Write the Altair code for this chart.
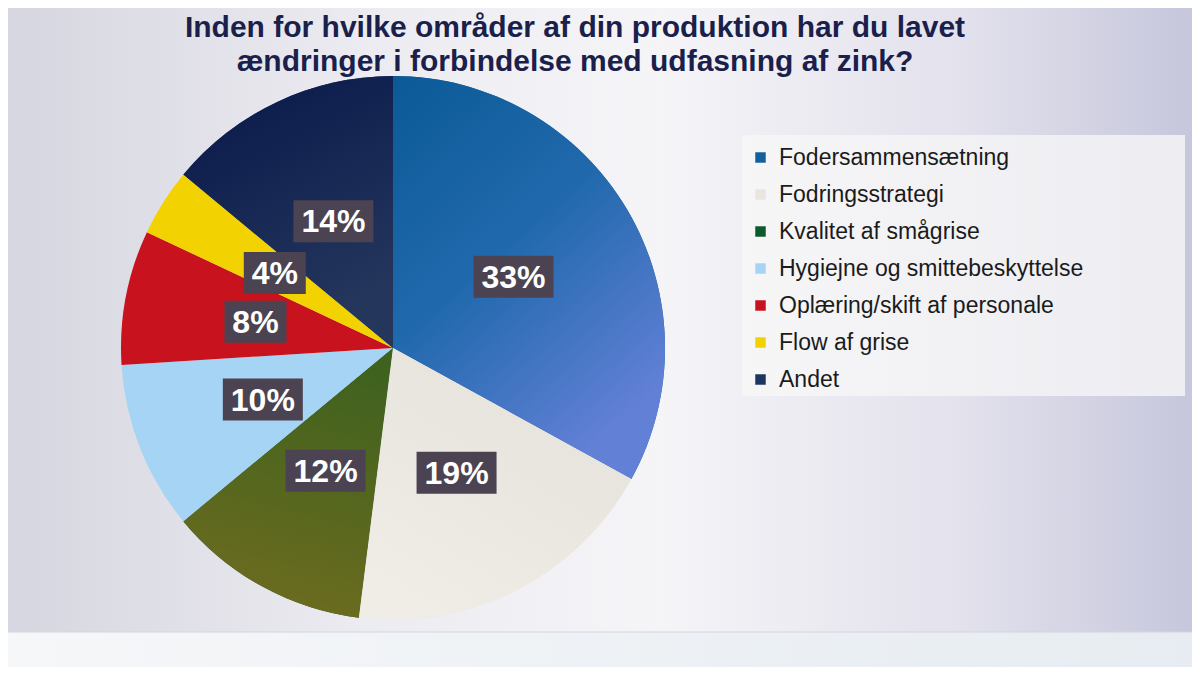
import math
import altair as alt
import pandas as pd

CATEGORIES = [
    "Fodersammensætning",
    "Fodringsstrategi",
    "Kvalitet af smågrise",
    "Hygiejne og smittebeskyttelse",
    "Oplæring/skift af personale",
    "Flow af grise",
    "Andet",
]
VALUES = [33, 19, 12, 10, 8, 4, 14]
LABELS = ["33%", "19%", "12%", "10%", "8%", "4%", "14%"]
COLORS = ["#12609c", "#e9e6df", "#0f5a2c", "#a6d4f4", "#c8131e", "#f2d200", "#1e3461"]
TITLE_LINES = [
    "Inden for hvilke områder af din produktion har du lavet",
    "ændringer i forbindelse med udfasning af zink?",
]

W, H = 1184, 659
CX, CY, R = 385, 340, 272
LR = 140

df = pd.DataFrame({
    "kategori": CATEGORIES,
    "andel": VALUES,
    "label": LABELS,
    "orden": list(range(len(CATEGORIES))),
})

base = (
    alt.Chart(df)
    .transform_window(cum="sum(andel)", sort=[alt.SortField("orden")], frame=[None, 0])
    .transform_calculate(start="datum.cum - datum.andel", mid="datum.cum - datum.andel / 2")
    .transform_calculate(ang="datum.mid / 100 * 2 * PI")
    .transform_calculate(
        lx=f"{CX} + {LR} * sin(datum.ang)",
        ly=f"{CY} - {LR} * cos(datum.ang)",
        bw="18 * length(datum.label) + 26",
    )
    .transform_calculate(
        bx1="datum.lx - datum.bw / 2",
        bx2="datum.lx + datum.bw / 2",
        by1="datum.ly - 21",
        by2="datum.ly + 21",
    )
)

theta_scale = alt.Scale(domain=[0, 100], range=[0, 2 * math.pi])
xs = alt.Scale(domain=[0, W], range=[0, W], nice=False, zero=False)
ys = alt.Scale(domain=[0, H], range=[0, H], nice=False, zero=False)

one = pd.DataFrame({"k": [0]})

bg = alt.Chart(one).mark_rect(
    fill=alt.Gradient(
        gradient="linear", x1=0, y1=0, x2=1, y2=0,
        stops=[
            alt.GradientStop(offset=0, color="#d6d6e0"),
            alt.GradientStop(offset=0.3, color="#ecebf1"),
            alt.GradientStop(offset=0.55, color="#f5f4f7"),
            alt.GradientStop(offset=0.8, color="#e3e2ed"),
            alt.GradientStop(offset=1, color="#c6c7dc"),
        ],
    )
).encode(x=alt.value(0), x2=alt.value(W), y=alt.value(0), y2=alt.value(H))

strip = alt.Chart(one).mark_rect(
    fill=alt.Gradient(
        gradient="linear", x1=0, y1=0, x2=1, y2=0,
        stops=[
            alt.GradientStop(offset=0, color="#f6f7f9"),
            alt.GradientStop(offset=1, color="#e6ecf1"),
        ],
    ),
    stroke="#d4d4e0", strokeWidth=1,
).encode(x=alt.value(-2), x2=alt.value(W + 2), y=alt.value(624), y2=alt.value(H + 2))

legend_bg = alt.Chart(one).mark_rect(
    fill=alt.Gradient(
        gradient="linear", x1=0, y1=0, x2=1, y2=0,
        stops=[
            alt.GradientStop(offset=0, color="#f6f6f7"),
            alt.GradientStop(offset=1, color="#ededf2"),
        ],
    )
).encode(x=alt.value(734), x2=alt.value(1177), y=alt.value(127), y2=alt.value(388))

arcs = base.mark_arc(radius=R).encode(
    theta=alt.Theta("start:Q", scale=theta_scale),
    theta2="cum:Q",
    color=alt.Color(
        "kategori:N",
        scale=alt.Scale(domain=CATEGORIES, range=COLORS),
        sort=CATEGORIES,
        legend=alt.Legend(
            orient="none", legendX=741, legendY=138, title=None,
            symbolType="square", symbolSize=110, symbolStrokeWidth=0,
            labelFontSize=23, labelFont="Liberation Sans", labelColor="#1b1b1b",
            rowPadding=13, labelOffset=7, padding=0, labelLimit=600,
        ),
    ),
    x=alt.value(CX),
    y=alt.value(CY),
)


def grad_arc(cat, stops, x1, y1, x2, y2):
    return base.transform_filter(alt.datum.kategori == cat).mark_arc(
        radius=R,
        fill=alt.Gradient(
            gradient="linear", x1=x1, y1=y1, x2=x2, y2=y2,
            stops=[alt.GradientStop(offset=o, color=c) for o, c in stops],
        ),
    ).encode(
        theta=alt.Theta("start:Q", scale=theta_scale),
        theta2="cum:Q",
        x=alt.value(CX),
        y=alt.value(CY),
    )


g_blue = grad_arc(CATEGORIES[0], [(0, "#0b5a96"), (0.5, "#2169ad"), (1, "#6280d6")], 0, 0, 0.6, 1)
g_green = grad_arc(CATEGORIES[2], [(0, "#3f621f"), (1, "#6e6c1e")], 0.5, 0, 0.3, 1)
g_navy = grad_arc(CATEGORIES[6], [(0, "#07174a"), (1, "#24365c")], 0, 0, 0.4, 1)
g_beige = grad_arc(CATEGORIES[1], [(0, "#e5e2dc"), (1, "#f0ede7")], 0.8, 0, 0.2, 1)

boxes = base.mark_rect(fill="#4b4351").encode(
    x=alt.X("bx1:Q", scale=xs, axis=None),
    x2="bx2:Q",
    y=alt.Y("by1:Q", scale=ys, axis=None),
    y2="by2:Q",
)

texts = base.mark_text(
    font="Liberation Sans", fontSize=32, fontWeight="bold", color="white",
    align="center", baseline="middle", dy=1,
).encode(
    x=alt.X("lx:Q", scale=xs, axis=None),
    y=alt.Y("ly:Q", scale=ys, axis=None),
    text="label:N",
)

title = alt.Chart(one).mark_text(
    text=TITLE_LINES, font="Liberation Sans", fontSize=30, fontWeight="bold",
    color="#1b1f4c", align="center", baseline="alphabetic", lineHeight=34,
).encode(x=alt.value(567), y=alt.value(29))

chart = alt.layer(
    bg, strip, legend_bg, arcs, g_blue, g_green, g_navy, g_beige, boxes, texts, title
).properties(
    width=W, height=H, padding=0, autosize=alt.AutoSizeParams(type="none"),
    background="#e4e4ec",
).configure_view(stroke=None)

chart.save("out.html", embed_options={"renderer": "svg", "actions": False})
